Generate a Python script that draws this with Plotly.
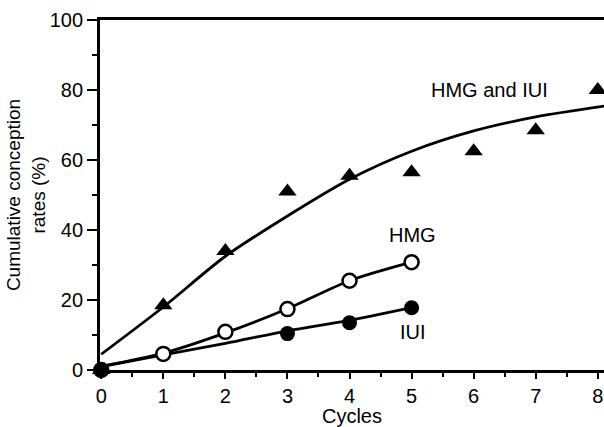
import plotly.graph_objects as go

# Observed cumulative conception rates (%) by treatment cycle
cycles_combined = [0, 1, 2, 3, 4, 5, 6, 7, 8]
rate_combined = [0, 18.5, 34, 51, 55.5, 56.5, 62.5, 68.5, 80]

cycles_hmg = [0, 1, 2, 3, 4, 5]
rate_hmg = [0, 4.6, 10.9, 17.4, 25.5, 30.8]

cycles_iui = [0, 3, 4, 5]
rate_iui = [0, 10.4, 13.5, 17.8]

# Smoothed (fitted) curves
fit_cycles_combined = [0, 1, 2, 3, 4, 5, 6, 7, 8.15]
fit_combined = [4.5, 18, 32.5, 44, 54.5, 62.5, 68.3, 72.3, 75.5]

fit_cycles_hmg = [0, 1, 2, 3, 4, 5]
fit_hmg = [1, 4.8, 10.6, 17.5, 25.5, 30.8]

fit_cycles_iui = [0, 1, 2, 3, 4, 5]
fit_iui = [1, 4.3, 7.6, 11.2, 14.2, 17.8]

x_ticks = [0, 1, 2, 3, 4, 5, 6, 7, 8]
y_ticks = [0, 20, 40, 60, 80, 100]

FONT = "Liberation Sans, Arial, Helvetica, sans-serif"
INK = "black"

fig = go.Figure()

for fx, fy in [(fit_cycles_combined, fit_combined),
               (fit_cycles_hmg, fit_hmg),
               (fit_cycles_iui, fit_iui)]:
    fig.add_trace(go.Scatter(
        x=fx, y=fy, mode="lines", line=dict(color=INK, width=2.8, shape="spline", smoothing=0.8),
        hoverinfo="skip", showlegend=False, cliponaxis=False))

fig.add_trace(go.Scatter(
    x=cycles_combined, y=rate_combined, mode="markers", name="HMG and IUI",
    marker=dict(symbol="triangle-up", size=16, color=INK, line=dict(width=0)),
    showlegend=False, cliponaxis=False))
fig.add_trace(go.Scatter(
    x=cycles_hmg, y=rate_hmg, mode="markers", name="HMG",
    marker=dict(symbol="circle", size=14, color="white", line=dict(color=INK, width=2.5)),
    showlegend=False, cliponaxis=False))
fig.add_trace(go.Scatter(
    x=cycles_iui, y=rate_iui, mode="markers", name="IUI",
    marker=dict(symbol="circle", size=15, color=INK, line=dict(width=0)),
    showlegend=False, cliponaxis=False))

annotations = [
    dict(x=6.25, y=80, text="HMG and IUI"),
    dict(x=5.02, y=38.6, text="HMG"),
    dict(x=5.02, y=10.9, text="IUI"),
]
for a in annotations:
    fig.add_annotation(x=a["x"], y=a["y"], text=a["text"], showarrow=False,
                       font=dict(family=FONT, size=20, color=INK),
                       xanchor="center", yanchor="middle")

fig.update_layout(
    width=604, height=427,
    margin=dict(l=100, r=0, t=20, b=57),
    paper_bgcolor="white", plot_bgcolor="white",
    font=dict(family=FONT, size=20, color=INK),
    xaxis=dict(
        range=[-0.02, 8.1], tickvals=x_ticks, ticktext=[str(v) for v in x_ticks],
        showgrid=False, zeroline=False,
        showline=True, linecolor=INK, linewidth=2.8, mirror=True,
        ticks="outside", ticklen=6, tickwidth=2.2, tickcolor=INK,
        minor=dict(dtick=0.5, ticks="outside", ticklen=4, tickwidth=2, tickcolor=INK),
        tickfont=dict(size=20),
        title=dict(text="Cycles", font=dict(size=20), standoff=0),
    ),
    yaxis=dict(
        range=[0, 100], tickvals=y_ticks, ticktext=[str(v) for v in y_ticks],
        showgrid=False, zeroline=False,
        showline=True, linecolor=INK, linewidth=2.8,
        ticks="outside", ticklen=10, tickwidth=2.2, tickcolor=INK,
        minor=dict(dtick=10, ticks="outside", ticklen=5, tickwidth=2, tickcolor=INK),
        tickfont=dict(size=20),
        title=dict(text="Cumulative conception<br>rates (%)", font=dict(size=19), standoff=0),
    ),
)

fig.write_html("out.html")
